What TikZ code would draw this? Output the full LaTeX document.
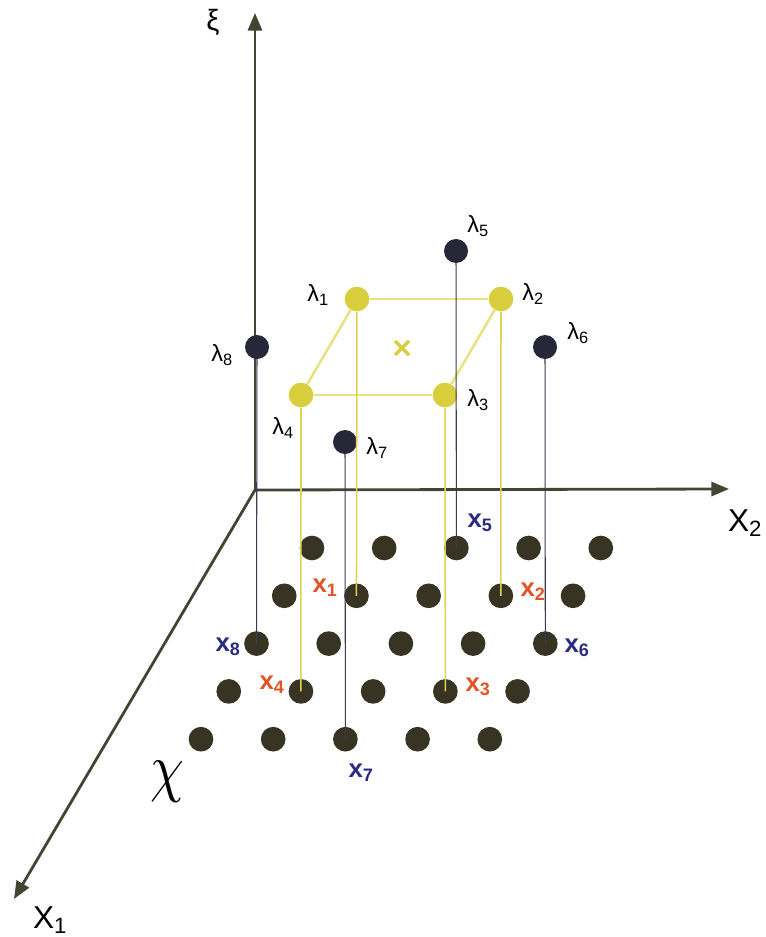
\documentclass[tikz,border=0pt]{standalone}
\usepackage{fontspec}
\setmainfont{Liberation Sans}
\usepackage{xcolor}
\usetikzlibrary{arrows.meta}

\definecolor{axisgray}{RGB}{68,68,52}
\definecolor{dotolive}{RGB}{55,52,35}
\definecolor{dotnavy}{RGB}{38,40,58}
\definecolor{cubeyellow}{RGB}{216,206,62}
\definecolor{edgeyellow}{RGB}{232,226,130}
\definecolor{stemyellow}{RGB}{222,212,80}
\definecolor{labred}{RGB}{226,84,38}
\definecolor{labblue}{RGB}{42,42,128}

\tikzset{
	axis/.style={line width=2.4pt, draw=axisgray, -{Triangle[length=15pt,width=12pt]}},
	grid dot/.style={circle, fill=dotolive, minimum size=0.74cm, inner sep=0pt},
	navy dot/.style={circle, fill=dotnavy, minimum size=0.72cm, inner sep=0pt},
	cube dot/.style={circle, fill=cubeyellow, minimum size=0.74cm, inner sep=0pt},
	navy stem/.style={line width=0.9pt, draw=dotnavy!90},
	yellow stem/.style={line width=1.3pt, draw=stemyellow},
	cube edge/.style={line width=2.2pt, draw=edgeyellow},
	lamlabel/.style={font=\fontsize{20}{20}\selectfont, inner sep=0pt},
	xlabel/.style={font=\fontsize{22}{22}\selectfont\bfseries, inner sep=0pt}
}

\begin{document}
\begin{tikzpicture}[x=0.03cm, y=-0.03cm]
	\useasboundingbox (0,0) rectangle (765,937);
	
	% axes
	\coordinate (O) at (255,490);
	\coordinate (xi) at (255,13);
	\coordinate (X2) at (729,489);
	\coordinate (X1) at (14,899);
	\draw[axis] (O) -- (xi);
	\draw[axis] (O) -- (X2);
	\draw[axis] (O) -- (X1);
	\node[font=\fontsize{25}{25}\selectfont] (xilabel) at (213,22) {ξ};
	\node[font=\fontsize{27}{27}\selectfont] (X2label) at (745,523) {X\textsubscript{2}};
	\node[font=\fontsize{27}{27}\selectfont] (X1label) at (50,920) {X\textsubscript{1}};
	\node[xscale=4.6, yscale=5.6, inner sep=0pt] (chi) at (167,782) {$\chi$};
	
	% grid of points
	\foreach \r in {1,...,5}
	\foreach \c in {1,...,5}
	\node[grid dot] (g\r\c) at ({312+72.2*(\c-1)-27.75*(\r-1)}, {548+47.8*(\r-1)}) {};
	
	% lambda points
	\node[cube dot] (l1) at (357,299) {};
	\node[cube dot] (l2) at (501,299) {};
	\node[cube dot] (l3) at (445,395) {};
	\node[cube dot] (l4) at (301,395) {};
	\node[navy dot] (l5) at (456,251) {};
	\node[navy dot] (l6) at (545,347) {};
	\node[navy dot] (l7) at (345,442) {};
	\node[navy dot] (l8) at (257,347) {};
	
	\draw[cube edge] (l1) -- (l2);
	\draw[cube edge] (l2) -- (l3);
	\draw[cube edge] (l3) -- (l4);
	\draw[cube edge] (l4) -- (l1);
	
	\draw[yellow stem] (l1) -- (g22.center);
	\draw[yellow stem] (l2) -- (g24.center);
	\draw[yellow stem] (l3) -- (g44.center);
	\draw[yellow stem] (l4) -- (g42.center);
	\draw[navy stem] (l5) -- (g13.center);
	\draw[navy stem] (l6) -- (g35.center);
	\draw[navy stem] (l7) -- (g53.center);
	\draw[navy stem] (l8) -- (g31.center);
	
	% centre mark
	\draw[line width=3pt, draw=cubeyellow] (402,348) +(-7,-7) -- +(7,7) +(-7,7) -- +(7,-7);
	
	% lambda labels
	\node[lamlabel] (t1) at (318,295) {λ\textsubscript{1}};
	\node[lamlabel] (t2) at (533,294) {λ\textsubscript{2}};
	\node[lamlabel] (t3) at (478,400) {λ\textsubscript{3}};
	\node[lamlabel] (t4) at (283,428) {λ\textsubscript{4}};
	\node[lamlabel] (t5) at (478,226) {λ\textsubscript{5}};
	\node[lamlabel] (t6) at (578,333) {λ\textsubscript{6}};
	\node[lamlabel] (t7) at (377,448) {λ\textsubscript{7}};
	\node[lamlabel] (t8) at (222,355) {λ\textsubscript{8}};
	
	% x labels
	\node[xlabel, text=labred] (s1) at (325,588) {x\textsubscript{1}};
	\node[xlabel, text=labred] (s2) at (533,592) {x\textsubscript{2}};
	\node[xlabel, text=labred] (s3) at (478,687) {x\textsubscript{3}};
	\node[xlabel, text=labred] (s4) at (272,685) {x\textsubscript{4}};
	\node[xlabel, text=labblue] (s5) at (480,523) {x\textsubscript{5}};
	\node[xlabel, text=labblue] (s6) at (577,648) {x\textsubscript{6}};
	\node[xlabel, text=labblue] (s7) at (361,773) {x\textsubscript{7}};
	\node[xlabel, text=labblue] (s8) at (228,647) {x\textsubscript{8}};
	
\end{tikzpicture}
\end{document}
